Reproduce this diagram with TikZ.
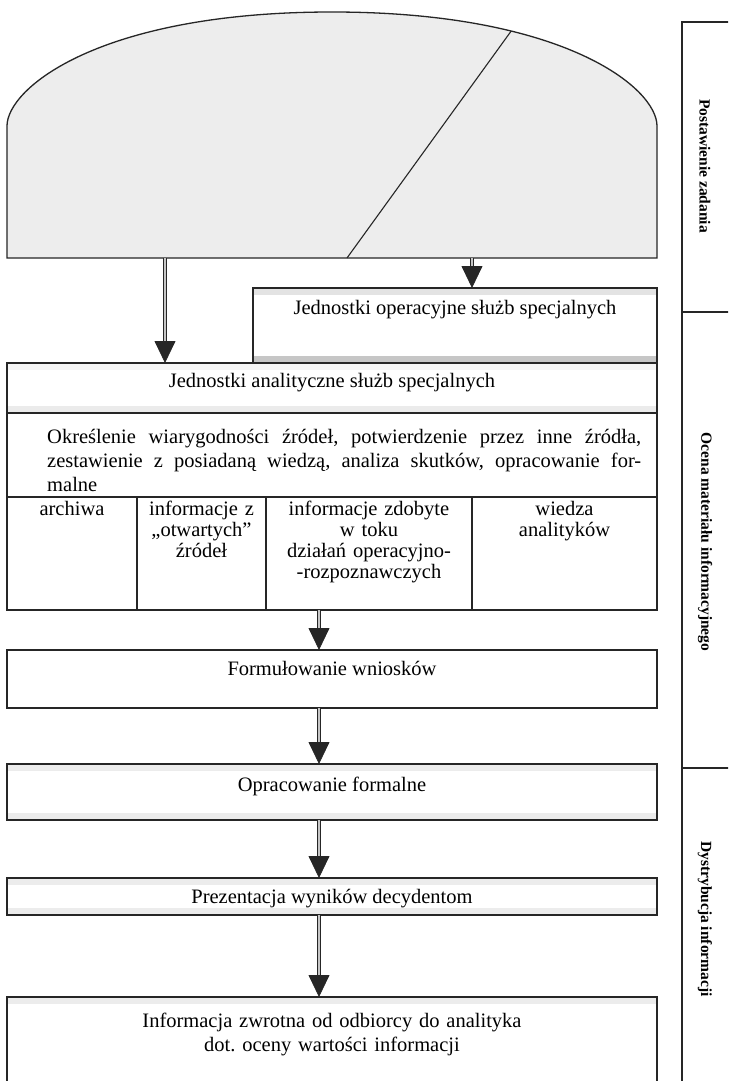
\documentclass[tikz,border=0pt]{standalone}
\usepackage{fontspec}
\setmainfont{Liberation Serif}
\usetikzlibrary{arrows.meta}
\frenchspacing
\begin{document}
\begin{tikzpicture}[x=1pt,y=-1pt,
  box/.style={draw=black!85, line width=1.1pt, fill=white, inner sep=0pt, outer sep=0pt},
  bands/.style 2 args={path picture={
     \fill[gray!#1] (path picture bounding box.north west) rectangle ([yshift=-7pt]path picture bounding box.north east);
     \fill[gray!#2] (path picture bounding box.south west) rectangle ([yshift=7pt]path picture bounding box.south east);}},
  txt/.style={font=\fontsize{20.5}{24}\selectfont, inner sep=0pt},
  coltxt/.style={font=\fontsize{20.5}{21}\selectfont, inner sep=0pt, align=center, anchor=base},
  side/.style={font=\fontsize{15.5}{18}\selectfont\bfseries, rotate=-90, inner sep=0pt},
  flow/.style={draw=black!85, line width=0.8pt, double=gray!45, double distance=2.2pt, -{Triangle[width=21pt,length=22pt]}}
]
\useasboundingbox (0,0) rectangle (728,1081);
\clip (0,0) rectangle (728,1081);
\fill[white] (0,0) rectangle (728,1081);

% dome
\fill[gray!14] (7,258) -- (7,126) .. controls (7,88) and (100,12) .. (332,12) .. controls (564,12) and (657,88) .. (657,126) -- (657,258) -- cycle;
\begin{scope}
  \clip (7,258) -- (7,126) .. controls (7,88) and (100,12) .. (332,12) .. controls (564,12) and (657,88) .. (657,126) -- (657,258) -- cycle;
  \draw[line width=1.1pt, black!85] (347,258) -- (530,5);
\end{scope}
\draw[line width=1.3pt, black!85] (7,258) -- (7,126) .. controls (7,88) and (100,12) .. (332,12) .. controls (564,12) and (657,88) .. (657,126) -- (657,258) -- cycle;
\coordinate (d1) at (165,258);
\coordinate (d2) at (472,258);

% boxes
\node[box, minimum width=404pt, minimum height=75pt, bands={22}{45}] (oper) at (455,325.5) {};
\node[box, minimum width=650pt, minimum height=50pt, bands={8}{16}] (analit) at (332,388) {};
\node[box, minimum width=650pt, minimum height=84pt] (okr) at (332,455) {};
\node[box, minimum width=130pt, minimum height=113pt] (c1) at (72,553.5) {};
\node[box, minimum width=129pt, minimum height=113pt] (c2) at (201.5,553.5) {};
\node[box, minimum width=206pt, minimum height=113pt] (c3) at (369,553.5) {};
\node[box, minimum width=185pt, minimum height=113pt] (c4) at (564.5,553.5) {};
\node[box, minimum width=650pt, minimum height=58pt] (form) at (332,679) {};
\node[box, minimum width=650pt, minimum height=56pt, bands={15}{15}] (opr) at (332,792) {};
\node[box, minimum width=650pt, minimum height=37pt, bands={15}{15}] (prez) at (332,896.5) {};
\node[box, minimum width=650pt, minimum height=100pt, bands={15}{0}] (info) at (332,1047) {};

% texts
\node[txt, anchor=base] (operT) at (455,314) {Jednostki operacyjne służb specjalnych};
\node[txt, anchor=base] (analitT) at (332,387) {Jednostki analityczne służb specjalnych};
\node[txt, text width=594pt, align=justify, anchor=base west] (okrT) at (47,443)
  {Określenie wiarygodności źródeł, potwierdzenie przez inne źródła,\linebreak zestawienie z posiadaną wiedzą, analiza skutków, opracowanie for-\linebreak malne};
\node[coltxt, text width=124pt] (c1T) at (72,515) {archiwa};
\node[coltxt, text width=125pt] (c2T) at (201.5,515) {informacje z\\„otwartych”\\źródeł};
\node[coltxt, text width=200pt] (c3T) at (369,515) {informacje zdobyte\\w toku\\działań operacyjno-\\-rozpoznawczych};
\node[coltxt, text width=180pt] (c4T) at (564.5,515) {wiedza\\analityków};
\node[txt, anchor=base] (formT) at (332,675) {Formułowanie wniosków};
\node[txt, anchor=base] (oprT) at (332,791) {Opracowanie formalne};
\node[txt, anchor=base] (prezT) at (332,903) {Prezentacja wyników decydentom};
\node[txt, text width=600pt, align=center, anchor=base] (infoT) at (332,1027) {Informacja zwrotna od odbiorcy do analityka\\dot.\ oceny wartości informacji};

% arrows
\coordinate (ax) at (319,0);
\draw[flow] (d1) -- (d1 |- analit.north);
\draw[flow] (d2) -- (d2 |- oper.north);
\draw[flow] (ax |- c3.south) -- (ax |- form.north);
\draw[flow] (ax |- form.south) -- (ax |- opr.north);
\draw[flow] (ax |- opr.south) -- (ax |- prez.north);
\draw[flow] (ax |- prez.south) -- (ax |- info.north);

% side column
\draw[line width=1.1pt, black!85] (682,1085) -- (682,22) -- (730,22);
\draw[line width=1.1pt, black!85] (682,312) -- (730,312);
\draw[line width=1.1pt, black!85] (682,768) -- (730,768);
\node[side] (s1) at (705,166) {Postawienie zadania};
\node[side] (s2) at (705,542) {Ocena materiału informacyjnego};
\node[side] (s3) at (705,919) {Dystrybucja informacji};
\end{tikzpicture}
\end{document}
